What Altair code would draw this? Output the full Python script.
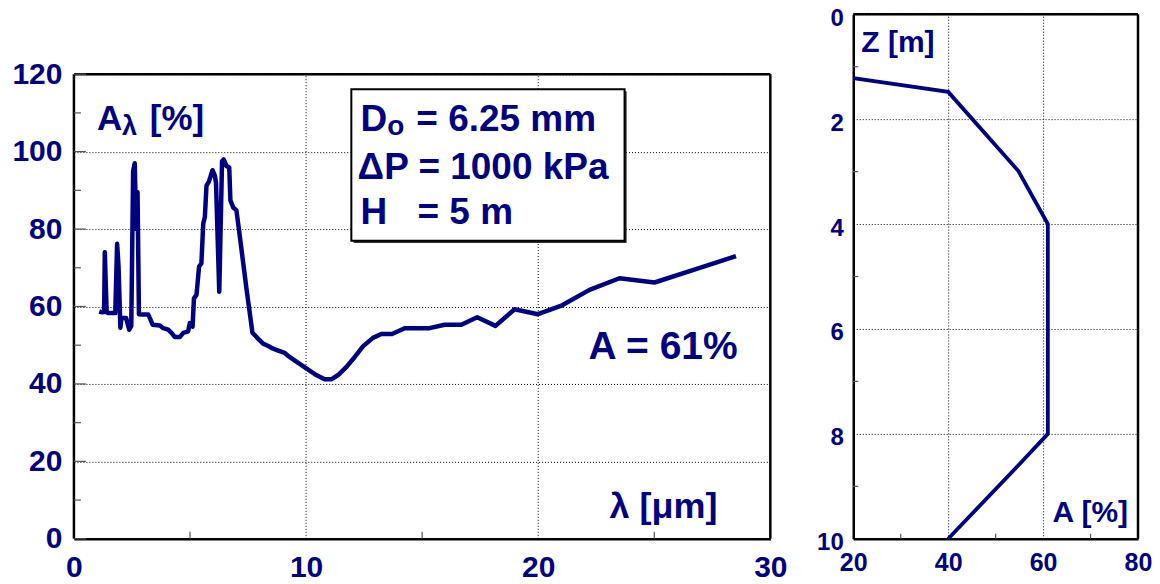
import altair as alt
import pandas as pd

NAVY = "#000080"
FONT = "Liberation Sans"

# ---------------- data: spectral absorptance (left panel) ----------------
wavelength = [1.09, 1.20, 1.30, 1.33, 1.37, 1.41, 1.50, 1.78, 1.86, 1.92, 2.00, 2.05, 2.25,
              2.38, 2.47, 2.55, 2.62, 2.68, 2.74, 2.80, 2.91, 3.20, 3.27, 3.39, 3.70, 3.85,
              4.06, 4.20, 4.35, 4.56, 4.71, 4.92, 4.99, 5.11, 5.17, 5.28, 5.39, 5.49, 5.57,
              5.64, 5.71, 5.81, 5.97, 6.07, 6.12, 6.26, 6.38, 6.45, 6.57, 6.69, 6.74, 6.86,
              7.00, 7.14, 7.43, 7.69, 7.93, 8.15, 8.37, 8.58, 8.80, 9.08, 9.30, 9.96, 10.44,
              10.80, 11.09, 11.38, 11.74, 12.09, 12.45, 12.88, 13.24, 13.70, 14.25, 15.32,
              15.97, 16.69, 17.37, 18.16, 18.98, 19.99, 21.03, 22.21, 23.50, 25.01, 26.66,
              28.52]
absorptance = [58.7, 58.5, 58.6, 74.0, 66.0, 58.5, 58.3, 58.3, 76.2, 70.5, 54.5, 57.0, 57.0,
               54.0, 55.0, 95.0, 97.0, 80.0, 89.5, 58.0, 57.9, 57.9, 57.0, 55.3, 55.1, 54.4,
               54.0, 53.2, 52.1, 52.1, 53.2, 53.6, 55.7, 54.8, 62.1, 63.0, 70.3, 71.1, 81.4,
               83.1, 91.2, 92.2, 95.2, 93.8, 92.0, 63.8, 97.5, 98.0, 96.3, 95.9, 87.4, 85.6,
               84.8, 78.4, 64.7, 53.2, 51.7, 50.4, 49.8, 49.1, 48.6, 48.0, 46.9, 44.2, 42.3,
               41.2, 41.2, 42.3, 44.4, 46.9, 49.7, 51.9, 52.9, 52.9, 54.4, 54.4,
               55.3, 55.3, 57.2, 55.0, 59.3, 58.0, 60.3, 64.3, 67.3, 66.2, 69.4,
               73.0]

# ---------------- data: absorptance vs depth (right panel) ----------------
depth_A = [20.0, 40.0, 54.8, 61.0, 61.0, 55.3, 40.0]
depth_Z = [1.22, 1.48, 2.99, 4.0, 8.0, 8.55, 10.0]

# tick labels / tick positions
left_y_ticks = [0, 20, 40, 60, 80, 100, 120]
left_y_minor = [10, 30, 50, 70, 90, 110]
left_x_ticks = [0, 10, 20, 30]
left_x_minor = [5, 15, 25]
left_x_grid = [10, 20]
right_y_ticks = [0, 2, 4, 6, 8, 10]
right_y_minor = [1, 3, 5, 7, 9]
right_x_ticks = [20, 40, 60, 80]
right_x_minor = [30, 50, 70]

# annotation texts
box_lines = ["D", "o", "= 6.25 mm", "\u0394P = 1000 kPa", "H", "= 5 m"]
left_labels = ["A", "\u03bb", "[%]", "\u03bb [\u03bcm]", "A = 61%"]
right_labels = ["Z [m]", "A [%]"]

NOVIEW = alt.ViewBackground(stroke="transparent", strokeWidth=0)

# ---------------- left panel ----------------
LW, LH = 697, 525
xs_l = alt.Scale(domain=[0, 30], nice=False, zero=False)
ys_l = alt.Scale(domain=[0, 120], range=[525, 60], nice=False, zero=False)

X_L = alt.X("x:Q", scale=xs_l, title=None,
            axis=alt.Axis(values=left_x_ticks, grid=False, ticks=False, labelPadding=14,
                          labelFontSize=30, labelFontWeight="bold", labelColor=NAVY,
                          labelFont=FONT, domainColor="black", domainWidth=2.5,
                          labelFlush=False))
Y_L = alt.Y("y:Q", scale=ys_l, title=None,
            axis=alt.Axis(values=left_y_ticks, grid=True, gridDash=[1, 2], gridColor="black",
                          gridWidth=1, ticks=False, labelPadding=12, labelFontSize=30,
                          labelFontWeight="bold", labelColor=NAVY, labelFont=FONT,
                          domain=False, labelFlush=False))

line_df = pd.DataFrame({"x": wavelength, "y": absorptance})
vgrid_df = pd.DataFrame({"x": left_x_grid, "x2": left_x_grid, "y": [0] * 2, "y2": [120] * 2})
border_df = pd.DataFrame({"x": [0, 30, 0], "x2": [30, 30, 0], "y": [120, 0, 0],
                          "y2": [120, 120, 120]})
box_df = pd.DataFrame({"x": [11.95], "x2": [23.72], "y": [116.1], "y2": [77.0]})
shadow_df = pd.DataFrame({"x": [12.05], "x2": [23.81], "y": [115.6], "y2": [76.4]})
ytick_major = pd.DataFrame({"y": left_y_ticks})
ytick_minor = pd.DataFrame({"y": left_y_minor})
xtick_minor = pd.DataFrame({"x": left_x_minor})

ann_left = pd.DataFrame({
    "t": [left_labels[0], left_labels[1], left_labels[2], left_labels[3], left_labels[4],
          box_lines[0], box_lines[1], box_lines[2], box_lines[3], box_lines[4], box_lines[5]],
    "x": [0.99, 2.07, 3.27, 23.07, 22.17, 12.34, 13.50, 14.75, 12.22, 12.34, 14.80],
    "y": [105.5, 104.2, 105.5, 5.4, 46.5, 105.4, 104.4, 105.4, 92.9, 81.3, 81.3],
    "fs": [35, 27, 35, 36, 39, 37, 28, 37, 37, 37, 37],
})

vgrid = alt.Chart(vgrid_df).mark_rule(color="black", strokeWidth=1, strokeDash=[1, 2]).encode(
    x=X_L, x2="x2:Q", y=Y_L, y2="y2:Q")
shadow = alt.Chart(shadow_df).mark_rect(fill="#333333").encode(x=X_L, x2="x2:Q", y=Y_L, y2="y2:Q")
box = alt.Chart(box_df).mark_rect(fill="white", stroke="black", strokeWidth=2).encode(
    x=X_L, x2="x2:Q", y=Y_L, y2="y2:Q")
curve = alt.Chart(line_df).mark_line(color=NAVY, strokeWidth=4.5, strokeJoin="round").encode(
    x=X_L, y=Y_L)
borders = alt.Chart(border_df).mark_rule(color="black", strokeWidth=2.5).encode(
    x=X_L, x2="x2:Q", y=Y_L, y2="y2:Q")
tmaj = alt.Chart(ytick_major).mark_rule(color="#555555", strokeWidth=1.2).encode(
    y=Y_L, x=alt.value(0), x2=alt.value(12))
tmin = alt.Chart(ytick_minor).mark_rule(color="#555555", strokeWidth=1.2).encode(
    y=Y_L, x=alt.value(0), x2=alt.value(7))
txmin = alt.Chart(xtick_minor).mark_rule(color="#555555", strokeWidth=1.2).encode(
    x=X_L, y=alt.value(LH), y2=alt.value(LH - 7))
texts_l = alt.Chart(ann_left).mark_text(align="left", baseline="alphabetic", font=FONT,
                                        fontWeight="bold", color=NAVY).encode(
    x=X_L, y=Y_L, text="t:N", size=alt.Size("fs:Q", scale=None, legend=None))

left = alt.layer(vgrid, shadow, box, curve, texts_l, borders, tmaj, tmin, txmin).properties(
    width=LW, height=LH, view=NOVIEW)

# ---------------- right panel ----------------
RW, RH = 285, 525
xs_r = alt.Scale(domain=[20, 80], nice=False, zero=False)
ys_r = alt.Scale(domain=[0, 10], reverse=True, nice=False, zero=False)
X_R = alt.X("x:Q", scale=xs_r, title=None,
            axis=alt.Axis(values=right_x_ticks, grid=True, gridDash=[1, 2], gridColor="black",
                          gridWidth=1, ticks=False, labelPadding=12, labelFontSize=25,
                          labelFontWeight="bold", labelColor=NAVY, labelFont=FONT,
                          domainColor="black", domainWidth=2.5, labelFlush=False))
Y_R = alt.Y("y:Q", scale=ys_r, title=None,
            axis=alt.Axis(values=right_y_ticks, grid=True, gridDash=[1, 2], gridColor="black",
                          gridWidth=1, ticks=False, labelPadding=10, labelFontSize=24,
                          labelOffset=4, labelFontWeight="bold", labelColor=NAVY,
                          labelFont=FONT, domainColor="black", domainWidth=2.5,
                          labelFlush=False))

prof_df = pd.DataFrame({"x": depth_A, "y": depth_Z, "o": list(range(len(depth_A)))})
rborder_df = pd.DataFrame({"x": [20, 80], "x2": [80, 80], "y": [0, 0], "y2": [0, 10]})
rytick = pd.DataFrame({"y": right_y_minor})
rxtick = pd.DataFrame({"x": right_x_minor})
ann_r1 = pd.DataFrame({"t": [right_labels[0]], "x": [21.7], "y": [0.72]})
ann_r2 = pd.DataFrame({"t": [right_labels[1]], "x": [77.9], "y": [9.68]})

prof = alt.Chart(prof_df).mark_line(color=NAVY, strokeWidth=3.8).encode(
    x=X_R, y=Y_R, order="o:Q")
rborders = alt.Chart(rborder_df).mark_rule(color="black", strokeWidth=2.5).encode(
    x=X_R, x2="x2:Q", y=Y_R, y2="y2:Q")
rymin = alt.Chart(rytick).mark_rule(color="#555555", strokeWidth=1.2).encode(
    y=Y_R, x=alt.value(0), x2=alt.value(5))
rxmin = alt.Chart(rxtick).mark_rule(color="#555555", strokeWidth=1.2).encode(
    x=X_R, y=alt.value(RH), y2=alt.value(RH - 5))
rt1 = alt.Chart(ann_r1).mark_text(align="left", baseline="alphabetic", font=FONT,
                                  fontWeight="bold", color=NAVY, fontSize=30).encode(
    x=X_R, y=Y_R, text="t:N")
rt2 = alt.Chart(ann_r2).mark_text(align="right", baseline="alphabetic", font=FONT,
                                  fontWeight="bold", color=NAVY, fontSize=30).encode(
    x=X_R, y=Y_R, text="t:N")

right = alt.layer(prof, rt1, rt2, rborders, rymin, rxmin).properties(
    width=RW, height=RH, view=NOVIEW)

chart = alt.hconcat(left, right, spacing=83, bounds="flush").properties(
    padding={"left": 3, "top": -2, "right": 0, "bottom": 0}, background="white"
).configure_view(stroke="transparent", strokeWidth=0)

chart.save("out.html", embed_options={"renderer": "svg", "actions": False})
